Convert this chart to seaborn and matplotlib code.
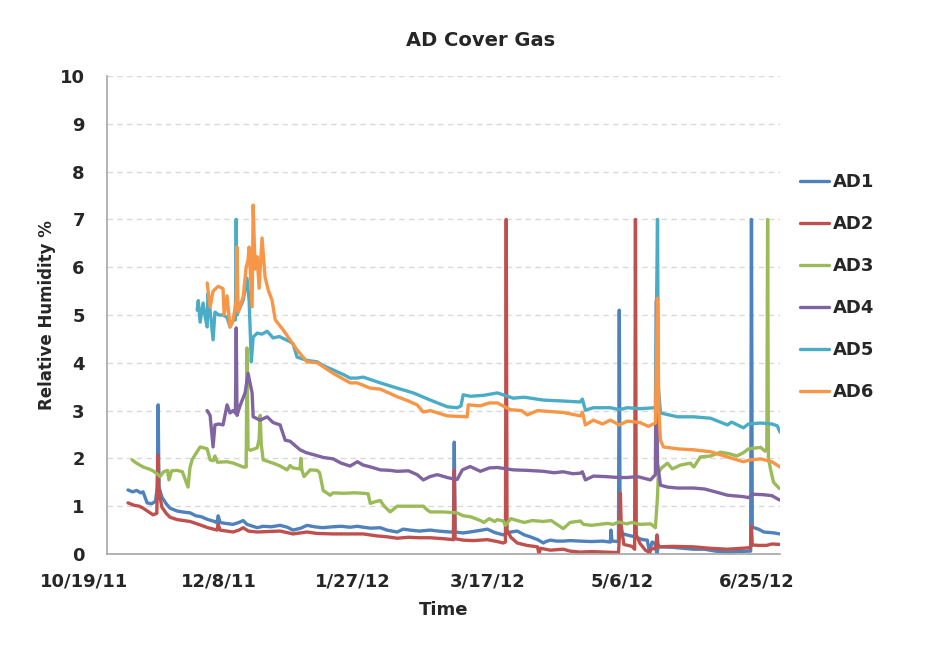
# AD cover gas - umidade relativa dos sensores AD1..AD6
import pandas as pd
import seaborn as sns
import matplotlib.pyplot as plt
from matplotlib import transforms

# dia zero do eixo x
inicio = pd.Timestamp("2011-10-19")

# dias desde 10/19/11 e umidade relativa (%)
ad1_dia = [7.8, 9.5, 11.0, 12.5, 13.4, 14.9, 16.5, 18.0, 18.7, 19.0, 19.3, 20.4, 22.0, 23.4, 26.0, 28.0, 30.9, 33.0,
           35.0, 37.5, 40.0, 40.9, 41.3, 42.0, 44.0, 46.8, 49.0, 50.6, 52.0, 55.8, 58.0, 61.0, 64.3, 67.0, 69.1, 72.0,
           74.3, 77.0, 80.0, 84.0, 87.0, 90.3, 93.0, 95.2, 98.0, 101.5, 104.0, 107.8, 110.0, 112.6, 116.0, 120.1,
           123.0, 127.5, 128.7, 129.0, 129.3, 132.3, 136.0, 141.3, 144.0, 147.2, 148.0, 150.0, 152.4, 155.0, 157.2,
           160.0, 162.1, 163.0, 164.7, 167.0, 169.5, 172.0, 175.8, 180.0, 184.0, 187.0, 187.2, 187.6, 190.0, 190.3,
           190.6, 193.0, 196.0, 199.0, 200.7, 201.5, 202.5, 203.5, 204.3, 204.8, 205.6, 210.0, 214.0, 217.8, 222.0,
           226.0, 230.5, 234.0, 238.3, 239.1, 239.4, 239.7, 242.0, 244.0, 246.0, 248.0, 249.8]
ad1_rh = [1.34, 1.30, 1.33, 1.28, 1.30, 1.07, 1.05, 1.10, 1.40, 3.12, 1.40, 1.19, 1.05, 0.96, 0.90, 0.88, 0.86, 0.80,
          0.78, 0.72, 0.68, 0.65, 0.80, 0.66, 0.64, 0.62, 0.66, 0.70, 0.62, 0.55, 0.58, 0.57, 0.60, 0.56, 0.50, 0.54,
          0.60, 0.57, 0.55, 0.57, 0.58, 0.56, 0.58, 0.56, 0.54, 0.55, 0.50, 0.46, 0.52, 0.50, 0.48, 0.50,
          0.48, 0.46, 0.46, 2.34, 0.46, 0.44, 0.47, 0.52, 0.45, 0.40, 0.42, 0.46, 0.48, 0.40, 0.36,
          0.30, 0.23, 0.26, 0.29, 0.27, 0.27, 0.28, 0.27, 0.26, 0.27, 0.25, 0.50, 0.27, 0.26, 5.10,
          0.44, 0.40, 0.36, 0.30, 0.29, 0.05, 0.25, 0.22, 0.00, 0.18, 0.15, 0.14, 0.12, 0.10, 0.10,
          0.06, 0.04, 0.05, 0.06, 0.06, 7.00, 0.56, 0.52, 0.46, 0.45, 0.44, 0.42]

ad2_dia = [7.8, 10.0, 12.0, 13.4, 15.5, 17.1, 18.5, 18.7, 19.0, 19.3, 20.4, 22.0, 23.4, 26.0, 30.9, 34.0, 37.5, 40.9,
           41.3, 42.0, 46.8, 49.0, 50.6, 52.5, 55.8, 60.0, 64.3, 69.1, 74.3, 78.0, 84.0, 90.3, 95.2, 100.0, 104.0,
           107.8, 112.0, 116.0, 120.1, 125.0, 128.7, 129.0, 129.3, 132.3, 136.0, 141.3, 145.0, 147.2, 148.0, 148.3,
           148.6, 150.0, 152.4, 156.0, 159.9, 160.5, 161.0, 164.7, 169.5, 172.0, 175.8, 180.0, 185.0, 190.0, 190.5,
           190.7, 191.0, 192.0, 195.0, 196.0, 196.3, 196.6, 198.0, 200.0, 201.0, 201.5, 202.0, 203.8, 204.3, 204.8,
           205.6, 210.0, 217.8, 224.0, 230.5, 236.0, 238.3, 239.1, 239.4, 239.7, 242.0, 245.0, 247.0, 249.8]
ad2_rh = [1.07, 1.02, 1.00, 0.96, 0.88, 0.82, 0.85, 1.50, 2.07, 1.30, 0.98, 0.85, 0.77, 0.72, 0.68, 0.62, 0.55, 0.50,
          0.62, 0.50, 0.46, 0.50, 0.55, 0.48, 0.46, 0.47, 0.48, 0.42, 0.46, 0.43, 0.42, 0.42, 0.42, 0.38, 0.36,
          0.33, 0.35, 0.34, 0.34, 0.32, 0.30, 1.75, 0.32, 0.29, 0.28, 0.30, 0.26, 0.23, 0.25, 7.00,
          0.50, 0.35, 0.23, 0.18, 0.15, 0.00, 0.12, 0.08, 0.10, 0.06, 0.04, 0.05, 0.04, 0.03, 0.50,
          1.27, 0.60, 0.20, 0.16, 0.10, 7.00, 0.40, 0.22, 0.08, 0.05, 0.00, 0.10, 0.12, 0.40, 0.15,
          0.15, 0.16, 0.15, 0.12, 0.10, 0.12, 0.13, 0.14, 0.57, 0.19, 0.18, 0.18, 0.21, 0.20]

ad3_dia = [9.3, 11.0, 13.4, 15.5, 17.1, 19.0, 19.7, 21.0, 22.5, 23.0, 24.0, 26.0, 28.0, 30.1, 30.8, 31.6, 33.0, 34.6,
           36.0, 37.2, 38.3, 39.4, 40.1, 41.0, 44.6, 47.0, 50.6, 51.7, 52.0, 52.4, 53.2, 55.8, 56.5, 56.9, 57.3, 58.0,
           61.7, 64.0, 66.9, 68.0, 69.1, 71.7, 72.0, 72.4, 73.2, 75.5, 78.1, 79.0, 80.3, 82.9, 84.0, 88.0, 92.0, 95.2,
           97.0, 97.8, 100.0, 101.5, 103.0, 105.2, 107.8, 112.0, 117.5, 119.0, 120.1, 125.0, 130.0, 132.3, 135.0,
           138.7, 140.0, 142.0, 144.0, 145.0, 147.2, 148.0, 150.0, 152.4, 155.0, 158.0, 162.0, 165.0, 169.5, 172.0,
           175.8, 177.0, 180.0, 183.0, 186.0, 188.0, 190.0, 193.0, 195.0, 198.0, 202.0, 203.7, 204.5, 204.8, 206.0,
           208.2, 210.0, 213.0, 216.7, 218.0, 220.4, 224.2, 227.9, 231.0, 234.0, 236.4, 238.3, 242.8, 244.5, 245.1,
           245.4, 245.7, 246.5, 247.6, 249.8]
ad3_rh = [1.97, 1.90, 1.82, 1.78, 1.74, 1.66, 1.62, 1.72, 1.75, 1.55, 1.74, 1.75, 1.72, 1.40, 1.80, 1.97, 2.10, 2.24,
          2.22, 2.20, 1.97, 1.95, 2.05, 1.92, 1.93, 1.90, 1.82, 1.82, 4.31, 2.20, 2.17, 2.22, 2.40, 2.90, 2.30, 1.97,
          1.90, 1.85, 1.76, 1.85, 1.80, 1.78, 2.00, 1.75, 1.62, 1.76, 1.75, 1.70, 1.33, 1.23, 1.28, 1.27, 1.28, 1.27,
          1.26, 1.06, 1.10, 1.12, 1.00, 0.88, 1.00, 1.00, 1.00, 0.92, 0.88, 0.88, 0.86, 0.80, 0.78,
          0.70, 0.66, 0.74, 0.68, 0.72, 0.69, 0.60, 0.74, 0.70, 0.66, 0.70, 0.68, 0.70, 0.53, 0.66,
          0.69, 0.62, 0.60, 0.62, 0.64, 0.62, 0.67, 0.63, 0.66, 0.62, 0.63, 0.55, 1.20, 1.70, 1.80,
          1.90, 1.78, 1.86, 1.90, 1.82, 2.03, 2.05, 2.13, 2.10, 2.05, 2.12, 2.20, 2.23, 2.15, 2.20,
          7.00, 2.00, 1.77, 1.50, 1.37]

ad4_dia = [37.2, 38.3, 39.4, 40.1, 41.5, 43.1, 44.6, 45.7, 46.8, 47.7, 48.0, 48.3, 49.4, 51.3, 52.4, 53.9, 54.3, 56.9,
           59.5, 61.7, 64.3, 66.2, 68.0, 71.7, 74.0, 76.6, 80.3, 84.0, 87.0, 90.3, 93.0, 95.2, 98.0, 101.5, 105.0,
           107.8, 112.0, 115.2, 117.5, 120.0, 122.7, 126.4, 128.7, 130.1, 132.0, 134.9, 138.7, 142.0, 145.0, 150.9,
           156.0, 162.1, 166.0, 169.5, 173.0, 175.8, 176.6, 177.7, 180.7, 185.0, 190.0, 193.3, 197.0, 201.9, 203.7,
           204.1, 204.5, 205.6, 208.2, 212.0, 217.8, 222.0, 226.0, 230.5, 236.4, 238.3, 240.1, 244.0, 247.0, 249.8]
ad4_rh = [3.00, 2.90, 2.24, 2.70, 2.72, 2.70, 3.12, 2.95, 3.00, 2.95, 4.73, 2.90, 3.10, 3.37, 3.78, 3.37, 2.87, 2.80,
          2.87, 2.75, 2.70, 2.38, 2.36, 2.18, 2.12, 2.08, 2.02, 1.99, 1.90, 1.84, 1.93, 1.86, 1.82, 1.76, 1.75,
          1.73, 1.74, 1.66, 1.55, 1.62, 1.66, 1.60, 1.57, 1.56, 1.76, 1.83, 1.73, 1.80, 1.81, 1.76,
          1.75, 1.73, 1.70, 1.72, 1.68, 1.69, 1.72, 1.55, 1.63, 1.62, 1.60, 1.60, 1.62, 1.55, 1.66,
          5.30, 1.90, 1.44, 1.40, 1.38, 1.38, 1.36, 1.30, 1.23, 1.20, 1.18, 1.25, 1.24, 1.22, 1.13]

ad5_dia = [33.5, 33.9, 34.6, 35.7, 36.5, 37.2, 37.5, 38.3, 39.4, 40.1, 41.5, 43.1, 44.6, 45.7, 46.8, 47.7, 48.0, 48.3,
           48.7, 50.6, 52.0, 52.8, 53.6, 54.3, 55.8, 57.6, 59.5, 61.7, 64.0, 68.0, 69.1, 70.6, 74.3, 78.1, 80.0, 84.0,
           88.0, 90.3, 92.9, 95.2, 101.5, 107.8, 113.8, 120.1, 126.4, 130.1, 131.5, 132.3, 135.0, 140.0, 145.0,
           150.9, 155.0, 162.1, 169.5, 175.8, 176.6, 177.7, 180.7, 187.0, 190.3, 193.3, 198.0, 203.7, 204.3, 204.5,
           204.8, 205.6, 211.9, 217.8, 224.2, 230.5, 232.0, 236.4, 238.3, 242.8, 247.0, 249.0, 250.0]
ad5_rh = [5.10, 5.30, 4.85, 5.25, 4.95, 4.75, 5.45, 5.10, 4.48, 5.06, 5.00, 5.00, 4.95, 4.75, 4.88, 4.90, 7.00, 5.00,
          5.06, 5.31, 5.77, 5.30, 4.02, 4.54, 4.62, 4.60, 4.66, 4.52, 4.55, 4.44, 4.40, 4.12, 4.05, 4.02, 3.95, 3.85,
          3.75, 3.68, 3.68, 3.70, 3.58, 3.47, 3.37, 3.22, 3.08, 3.06, 3.10, 3.33, 3.30, 3.32, 3.37,
          3.26, 3.28, 3.22, 3.20, 3.18, 3.24, 3.01, 3.06, 3.06, 3.02, 3.06, 3.04, 3.06, 6.00, 7.00,
          3.50, 2.95, 2.87, 2.87, 2.84, 2.70, 2.76, 2.64, 2.72, 2.74, 2.72, 2.68, 2.55]

ad6_dia = [37.2, 38.3, 39.4, 41.3, 43.1, 43.5, 44.6, 45.7, 46.8, 48.0, 48.3, 48.7, 50.6, 51.7, 52.4, 52.8, 53.9, 54.3,
           55.0, 55.8, 56.5, 57.6, 58.7, 59.9, 61.3, 62.5, 65.4, 68.0, 70.6, 74.3, 78.1, 84.0, 90.3, 92.9, 97.8,
           101.5, 107.8, 112.0, 115.2, 117.5, 120.1, 126.4, 133.8, 134.2, 138.7, 142.0, 145.0, 149.8, 154.0, 156.1,
           159.9, 164.7, 169.5, 175.8, 176.6, 177.7, 180.7, 184.0, 187.0, 190.3, 193.3, 198.0, 201.1, 203.7, 204.5,
           205.0, 205.6, 206.7, 211.9, 217.8, 224.2, 230.5, 236.4, 239.0, 242.8, 247.0, 250.0]
ad6_rh = [5.67, 5.17, 5.50, 5.60, 5.55, 5.00, 5.40, 4.75, 4.88, 5.30, 6.42, 5.06, 5.38, 6.00, 6.15, 6.42, 5.17, 7.30,
          5.96, 6.22, 5.56, 6.61, 5.80, 5.52, 5.31, 4.90, 4.69, 4.48, 4.27, 4.02, 4.00, 3.78, 3.58, 3.58, 3.47,
          3.45, 3.29, 3.20, 3.12, 2.97, 3.00, 2.89, 2.87, 3.12, 3.10, 3.16, 3.16, 3.02, 3.00, 2.91,
          3.00, 2.98, 2.96, 2.89, 2.97, 2.70, 2.80, 2.72, 2.80, 2.70, 2.78, 2.75, 2.67, 2.74, 5.35,
          3.00, 2.38, 2.24, 2.20, 2.18, 2.14, 2.03, 1.93, 1.97, 1.99, 1.93, 1.82]

sensores = ["AD1", "AD2", "AD3", "AD4", "AD5", "AD6"]
cores = ["#4F81BD", "#C0504D", "#9BBB59", "#8064A2", "#4BACC6", "#F79646"]

# monta a tabela longa para o seaborn
series = zip(sensores, [ad1_dia, ad2_dia, ad3_dia, ad4_dia, ad5_dia, ad6_dia],
             [ad1_rh, ad2_rh, ad3_rh, ad4_rh, ad5_rh, ad6_rh])
df = pd.concat([pd.DataFrame({"Time": inicio + pd.to_timedelta(d, unit="D"), "RH": v, "sensor": s})
                for s, d, v in series], ignore_index=True)

sns.set_style("white")
plt.rcParams["font.family"] = ["DejaVu Sans"]

fig = plt.figure(figsize=(9.43, 6.48), dpi=100)
ax = fig.add_axes([107/943, 1 - 554/648, 673/943, 478/648])

sns.lineplot(data=df, x="Time", y="RH", hue="sensor", hue_order=sensores, palette=cores,
             estimator=None, sort=False, linewidth=2.4, legend=False, ax=ax)

# eixos
ax.set_ylim(0, 10)
ax.set_yticks(range(0, 11))
ax.set_xlim(inicio, inicio + pd.Timedelta(days=250))
datas = [inicio + pd.Timedelta(days=50 * i) for i in range(6)]
ax.set_xticks(datas)
ax.set_xticklabels([f"{d.month}/{d.day}/{d:%y}" for d in datas])

ax.yaxis.grid(True, linestyle=(0, (4, 3)), color="#d9d9d9", linewidth=1)
ax.set_axisbelow(True)
for lado in ["top", "right"]:
    ax.spines[lado].set_visible(False)
for lado in ["left", "bottom"]:
    ax.spines[lado].set_color("#a6a6a6")
    ax.spines[lado].set_linewidth(1.2)

ax.tick_params(axis="x", direction="in", length=6, color="#a6a6a6", pad=13, labelsize=13)
ax.tick_params(axis="y", length=0, pad=16, labelsize=13)
for lab in ax.get_xticklabels() + ax.get_yticklabels():
    lab.set_fontweight("bold")
# rotulos de data do excel ficam deslocados para a esquerda
for lab in ax.get_xticklabels():
    lab.set_transform(lab.get_transform() + transforms.ScaledTranslation(-0.23, 0, fig.dpi_scale_trans))

ax.set_xlabel("Time", fontsize=13, fontweight="bold", labelpad=8)
ax.set_ylabel("Relative Humidity %", fontsize=12, fontweight="bold", labelpad=3)
fig.text(0.51, 0.938, "AD Cover Gas", ha="center", va="center", fontsize=14, fontweight="bold")

# legenda a direita
fig.legend(ax.lines[:6], sensores, loc="upper left", bbox_to_anchor=(800/943, 1 - 173/648),
           frameon=False, prop={"weight": "bold", "size": 13}, handlelength=1.6, handletextpad=0.2,
           labelspacing=1.33, borderpad=0, borderaxespad=0)

fig.savefig("out.png", dpi=100)
